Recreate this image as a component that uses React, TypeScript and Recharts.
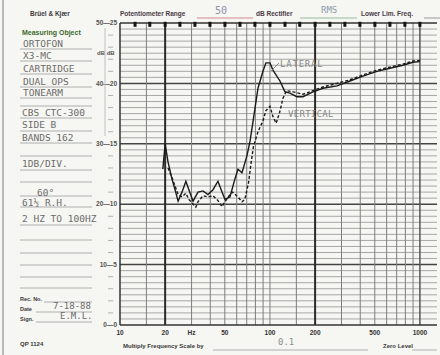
import React from 'react';
import { ComposedChart, Line, Scatter, XAxis, YAxis, ReferenceLine } from 'recharts';

// Lateral response (solid pen), level on the 0-25 scale
const lateralFreq = [
  19.3, 20, 20.9, 22.2, 23.3, 24.4, 25.9, 27.5, 28.8, 30.7, 33.1, 35.8, 38.6, 41.7, 45, 47.9,
  50.1, 54.1, 58.4, 61.2, 65.1, 70.2, 73.6, 77, 83.2, 89.8, 94, 100, 104.7, 116.6, 125.9, 136,
  151, 166, 193.5, 225.6, 279.8, 341.5, 416.9, 516.9, 631, 770, 898, 1000,
];
const lateralDb = [
  12.9, 15, 13.5, 12.1, 11.2, 10.25, 11, 11.9, 11.2, 10.25, 11, 11.1, 10.8, 11.2, 11.9, 11,
  10.4, 10.6, 12.1, 12.9, 12.6, 14, 15.2, 16.8, 19.6, 21, 21.7, 21.7, 21.1, 20.2, 19.3, 19.2,
  18.9, 18.9, 19.3, 19.6, 19.8, 20.2, 20.6, 21, 21.25, 21.5, 21.75, 21.8,
];

// Vertical response (dashed pen)
const verticalFreq = [
  20.9, 22.2, 23.3, 24.4, 25.9, 27.5, 28.8, 30.7, 32, 33.1, 35.8, 38.6, 41.7, 45, 47.9, 50.1,
  54.1, 56.3, 61.2, 65.1, 68, 72, 75, 77.7, 83.2, 89.8, 94, 100, 104.7, 110, 116, 122, 129,
  143, 166, 193.5, 225.6, 279.8, 341.5, 416.9, 516.9, 631, 770, 898, 1000,
];
const verticalDb = [
  13, 12.2, 11.5, 10.8, 10.6, 10.9, 10.4, 10, 9.75, 10.2, 10.7, 10.6, 10.7, 10.3, 9.8, 10.2,
  10.8, 11, 10.6, 10.2, 10.4, 11.8, 13.5, 14.8, 16, 16.9, 17.75, 18.1, 17.25, 16.7, 17.6, 18.75, 19.4,
  19.3, 19.1, 19.4, 19.7, 20, 20.3, 20.7, 21.1, 21.35, 21.6, 21.85, 21.9,
];

const freqTicks = [10, 20, 30, 50, 100, 200, 500, 1000];
const freqTickLabels = ['10', '20', 'Hz', '50', '100', '200', '500', '1000'];
const gridFreqs = [15, 20, 30, 40, 50, 60, 70, 80, 90, 100, 150, 200, 300, 400, 500, 600, 700, 800, 900, 1000];
const heavyFreqs = [20, 200];
const markerFreqs = [12.6, 15.8, 20, 25.1, 31.6, 39.8, 50.1, 63.1, 79.4, 100, 126, 158, 200, 251, 316, 398, 501, 631, 794, 1000];
const levelTicks = Array.from({ length: 26 }, (_, i) => i);
const gridLevels = Array.from({ length: 49 }, (_, i) => (i + 1) / 2);

const lateralData = lateralFreq.map((f, i) => ({ f, v: lateralDb[i] }));
const verticalData = verticalFreq.map((f, i) => ({ f, v: verticalDb[i] }));
const markerData = markerFreqs.map((f) => ({ f, v: 24.85 }));

const printed = { fontFamily: '"Liberation Sans", Arial, sans-serif', fontWeight: 700 };
const hand = { fontFamily: '"DejaVu Sans Mono", monospace', fill: '#6c6c6c' };

function LevelTick({ x, y, payload }: any) {
  const v = payload.value;
  if (v % 5 !== 0) {
    return <line x1={x - 12} x2={x - 7} y1={y} y2={y} stroke="#b0b0b0" strokeWidth={1} />;
  }
  return (
    <text x={x - 3} y={y} dy="0.35em" textAnchor="end" fontSize={6.5} fill="#555" style={printed}>
      {`${v * 2}—${v}`}
    </text>
  );
}

function Marker({ cx, cy }: any) {
  return <rect x={cx - 1.5} y={cy - 3} width={3} height={5} fill="#151515" />;
}

const formEntries = [
  { t: 'ORTOFON', x: 23, y: 47 },
  { t: 'X3-MC', x: 23, y: 59 },
  { t: 'CARTRIDGE', x: 23, y: 72 },
  { t: 'DUAL OPS', x: 23, y: 85 },
  { t: 'TONEARM', x: 23, y: 96 },
  { t: 'CBS CTC-300', x: 22, y: 116 },
  { t: 'SIDE B', x: 22, y: 128 },
  { t: 'BANDS 162', x: 22, y: 141 },
  { t: '1DB/DIV.', x: 22, y: 167 },
  { t: '60°', x: 37, y: 196 },
  { t: '61½ R.H.', x: 22, y: 206 },
  { t: '2 HZ TO 100HZ', x: 22, y: 222 },
];
const formLines = [49, 61, 74, 87, 98, 106, 118, 131, 143, 156, 170, 182, 196, 207, 225, 240, 253, 265, 277, 288];

function Overlay() {
  return (
    <svg width={440} height={355} style={{ position: 'absolute', left: 0, top: 0, pointerEvents: 'none' }}>
      <rect x={2} y={0} width={2} height={355} fill="#b8b8b8" />
      {/* header */}
      <text x={30} y={16} fontSize={6.5} fill="#3a3a3a" style={printed}>Brüel &amp; Kjær</text>
      <text x={120} y={16} fontSize={6.5} fill="#4b3b48" style={printed}>Potentiometer Range</text>
      <line x1={197} x2={253} y1={18} y2={18} stroke="#d08a8a" />
      <text x={215} y={14} fontSize={10} style={{ ...hand, fill: '#8894a8' }}>50</text>
      <text x={256} y={16} fontSize={6.5} fill="#4b3b48" style={printed}>dB Rectifier</text>
      <line x1={300} x2={357} y1={18} y2={18} stroke="#9ab89a" />
      <text x={321} y={13} fontSize={9} style={{ ...hand, fill: '#8a9aaa' }}>RMS</text>
      <text x={361} y={16} fontSize={6.5} fill="#4b3b48" style={printed}>Lower Lim. Freq.</text>
      <line x1={424} x2={440} y1={18} y2={18} stroke="#999" />
      {/* left form */}
      <text x={22} y={35} fontSize={7} fill="#3d6b2f" style={printed}>Measuring Object</text>
      {formLines.map((y) => (
        <line key={y} x1={20} x2={92} y1={y} y2={y} stroke="#a0a0a0" strokeWidth={0.8} />
      ))}
      {formEntries.map((e) => (
        <text key={e.t} x={e.x} y={e.y} fontSize={9.5} style={hand}>{e.t}</text>
      ))}
      <text x={20} y={301} fontSize={5.5} fill="#3a3a3a" style={printed}>Rec. No.</text>
      <text x={20} y={311} fontSize={5.5} fill="#3a3a3a" style={printed}>Date</text>
      <text x={20} y={321} fontSize={5.5} fill="#3a3a3a" style={printed}>Sign.</text>
      <line x1={44} x2={92} y1={302} y2={302} stroke="#a0a0a0" strokeWidth={0.8} />
      <line x1={36} x2={92} y1={312} y2={312} stroke="#a0a0a0" strokeWidth={0.8} />
      <line x1={36} x2={92} y1={322} y2={322} stroke="#a0a0a0" strokeWidth={0.8} />
      <text x={53} y={309} fontSize={9} style={hand}>7-18-88</text>
      <text x={60} y={319} fontSize={9} style={hand}>E.M.L.</text>
      <text x={20} y={346} fontSize={6} fill="#3a3a3a" style={printed}>QP 1124</text>
      {/* left axis extras */}
      <text x={97} y={55} fontSize={6} fill="#555" style={printed}>dB  dB</text>
      <line x1={105} x2={105} y1={28} y2={136} stroke="#c0c0c0" />
      {/* footer */}
      <text x={123} y={348} fontSize={6} fill="#3a3a3a" style={printed}>Multiply Frequency Scale by</text>
      <line x1={213} x2={368} y1={350} y2={350} stroke="#a0a0a0" strokeWidth={0.8} />
      <text x={278} y={345} fontSize={9} style={{ ...hand, fill: '#909090' }}>0.1</text>
      <text x={383} y={348} fontSize={6} fill="#3a3a3a" style={printed}>Zero Level</text>
      <line x1={412} x2={437} y1={350} y2={350} stroke="#a0a0a0" strokeWidth={0.8} />
      {/* curve annotations */}
      <line x1={271} x2={279} y1={71} y2={63} stroke="#777" strokeWidth={0.8} />
      <text x={280} y={67} fontSize={9} letterSpacing={0.8} style={{ ...hand, fill: '#8a8a8a' }}>LATERAL</text>
      <text x={288} y={117} fontSize={9} letterSpacing={0.3} style={{ ...hand, fill: '#8a8a8a' }}>VERTICAL</text>
    </svg>
  );
}

export default function App() {
  return (
    <div style={{ position: 'absolute', left: 0, top: 0, width: 440, height: 355, background: '#f6f6f2', overflow: 'hidden' }}>
      <ComposedChart width={440} height={355} margin={{ top: 23, right: 3, bottom: 10, left: 90 }}>
        <XAxis
          dataKey="f"
          type="number"
          scale="log"
          domain={[10, 1300]}
          allowDataOverflow
          ticks={freqTicks}
          tickFormatter={(v) => freqTickLabels[freqTicks.indexOf(v)] ?? ''}
          tick={{ fontSize: 6.5, fill: '#333', fontWeight: 700, fontFamily: '"Liberation Sans", Arial, sans-serif' }}
          tickLine={false}
          tickSize={0}
          tickMargin={5}
          axisLine={false}
          height={20}
        />
        <YAxis
          type="number"
          domain={[0, 25]}
          ticks={levelTicks}
          interval={0}
          tick={<LevelTick />}
          tickLine={false}
          tickSize={0}
          tickMargin={0}
          axisLine={false}
          width={30}
        />
        {gridLevels.map((l) => (
          <ReferenceLine
            key={`h${l}`}
            y={l}
            stroke={l % 5 === 0 ? '#444' : '#9e9e9e'}
            strokeWidth={l % 5 === 0 ? 1.5 : 0.9}
          />
        ))}
        {gridFreqs.map((f) => (
          <ReferenceLine
            key={`v${f}`}
            x={f}
            stroke={heavyFreqs.includes(f) ? '#2a2a2a' : f === 1000 ? '#555' : '#7e7e7e'}
            strokeWidth={heavyFreqs.includes(f) ? 2 : f === 1000 ? 1.5 : 1}
          />
        ))}
        <ReferenceLine y={0} stroke="#333" strokeWidth={1.5} />
        <ReferenceLine y={25} stroke="#333" strokeWidth={1.5} />
        <ReferenceLine x={10} stroke="#333" strokeWidth={1.5} />
        <Scatter data={markerData} dataKey="v" shape={<Marker />} isAnimationActive={false} />
        <Line
          data={verticalData}
          dataKey="v"
          type="linear"
          stroke="#1a1a1a"
          strokeWidth={1.4}
          strokeDasharray="3 2"
          dot={false}
          isAnimationActive={false}
        />
        <Line
          data={lateralData}
          dataKey="v"
          type="linear"
          stroke="#1a1a1a"
          strokeWidth={1.4}
          dot={false}
          isAnimationActive={false}
        />
      </ComposedChart>
      <Overlay />
    </div>
  );
}
